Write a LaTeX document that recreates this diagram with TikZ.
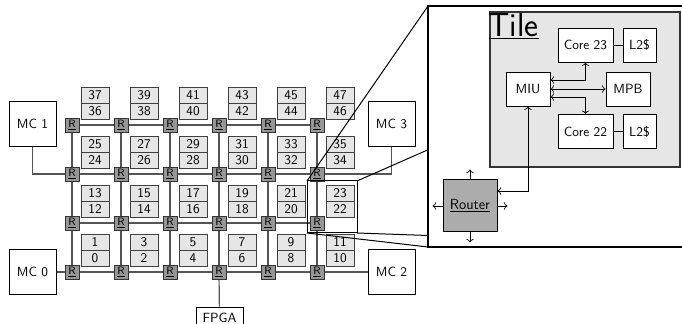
\documentclass[tikz,border=0pt]{standalone}
\usepackage{fontspec}
\renewcommand{\familydefault}{\sfdefault}
\usepackage{xcolor}
\definecolor{meshgray}{RGB}{85,85,85}
\definecolor{cellgray}{RGB}{230,230,230}
\definecolor{routergray}{RGB}{150,150,150}
\definecolor{bigrtgray}{RGB}{172,172,172}
\usepackage{tikz}
\usetikzlibrary{
  arrows.meta,
  positioning,
  backgrounds
}
\tikzset{
  link/.style={meshgray, line width=0.9pt},
  rtr/.style={draw=black!80, fill=routergray, line width=0.6pt, minimum size=10.5pt,
    inner sep=0pt, font=\fontsize{8}{9}\selectfont},
  cell/.style={draw=black!75, fill=cellgray, line width=0.6pt, minimum width=21pt,
    minimum height=12pt, inner sep=0pt, outer sep=0pt},
  mcbox/.style={draw, fill=white, line width=0.6pt, minimum width=35.25pt,
    minimum height=34pt, inner sep=0pt},
  unit/.style={draw, fill=white, line width=0.6pt, minimum height=25.5pt, inner sep=0pt},
  zoomline/.style={black, line width=0.75pt},
  port/.style={line width=0.5pt}
}

\begin{document}
\begin{tikzpicture}[x=0.75pt, y=-0.75pt]
  \useasboundingbox (0,0) rectangle (682,324);
  \clip (0,0) rectangle (682,324);

  % Mesh: router plus tile of two cores
  \foreach \j in {0,...,3}{
    \foreach \i in {0,...,5}{
      \pgfmathtruncatemacro{\lo}{12*\j+2*\i}
      \pgfmathtruncatemacro{\hi}{\lo+1}
      \node[rtr] (r\i\j) at ({72+49*\i},{272-49*\j}) {\underline{R}};
      \node[cell] (c\lo) at ({95+49*\i},{258-49*\j}) {\lo};
      \node[cell, above=0pt of c\lo] (c\hi) {\hi};
    }
  }

  % Memory controllers and FPGA
  \node[mcbox] (mc0) at (32.5,272) {MC 0};
  \node[mcbox] (mc1) at (32.5,124) {MC 1};
  \node[mcbox] (mc2) at (391.5,272) {MC 2};
  \node[mcbox] (mc3) at (391.5,124) {MC 3};
  \node[mcbox, minimum height=16.5pt] (fpga) at (219.5,318) {FPGA};

  % Links
  \begin{scope}[on background layer]
    \foreach \j in {0,...,3}
      \draw[link] (r0\j) -- (r5\j);
    \foreach \i in {0,...,5}
      \draw[link] (r\i3) -- (r\i0);
    \draw[link] (mc0) -- (r00);
    \draw[link] (r50) -- (mc2);
    \draw[link] (mc1) |- (r02);
    \draw[link] (mc3) |- (r52);
    \draw[link] (r30) -- (fpga);
  \end{scope}

  % Zoom on tile 22/23
  \coordinate (zs1) at (307,181);
  \coordinate (zs2) at (357,181);
  \coordinate (zs3) at (357,233);
  \coordinate (zs4) at (307,233);
  \coordinate (zb1) at (428,6);
  \coordinate (zb2) at (755,6);
  \coordinate (zb3) at (755,247);
  \coordinate (zb4) at (428,247);
  \draw[zoomline] (zs1) rectangle (zs3);
  \foreach \k in {1,...,4}
    \draw[zoomline] (zs\k) -- (zb\k);
  \draw[zoomline, line width=1pt, fill=white] (zb1) rectangle (zb3);

  % Tile detail
  \node[draw=black!80, fill=cellgray, line width=0.9pt, minimum width=142.5pt,
    minimum height=116.25pt] (tile) at (585,89.5) {};
  \node[anchor=north west, inner sep=1pt, font=\fontsize{25}{30}\selectfont]
    (tiletext) at (487,11.5) {\underline{Tile}};
  \node[unit, minimum width=41.25pt] (core23) at (585.5,45) {Core 23};
  \node[unit, minimum width=24.75pt] (l2a) at (639.5,45) {L2\$};
  \node[unit, minimum width=33pt] (miu) at (528,89) {MIU};
  \node[unit, minimum width=33pt] (mpb) at (628,89) {MPB};
  \node[unit, minimum width=41.25pt] (core22) at (585.5,131.5) {Core 22};
  \node[unit, minimum width=24.75pt] (l2b) at (639.5,131.5) {L2\$};
  \draw[port] (core23) -- (l2a);
  \draw[port] (core22) -- (l2b);
  \draw[port, <->] ([yshift=6.75pt]miu.east) -| (core23.south);
  \draw[port, <->] (miu) -- (mpb);
  \draw[port, <->] ([yshift=-6pt]miu.east) -| (core22.north);

  % Router of the tile
  \node[draw, fill=bigrtgray, line width=0.75pt, minimum width=40.5pt, minimum height=39pt,
    font=\fontsize{11}{13}\selectfont] (router) at (470,206) {\underline{Router}};
  \draw[port, <->] ([yshift=11.25pt]router.east) -| (miu.south);
  \foreach \a/\dx/\dy in {north/0/-10, south/0/10, west/-10/0, east/10/0}
    \draw[port, ->] (router.\a) -- ++(\dx,\dy);
\end{tikzpicture}
\end{document}
